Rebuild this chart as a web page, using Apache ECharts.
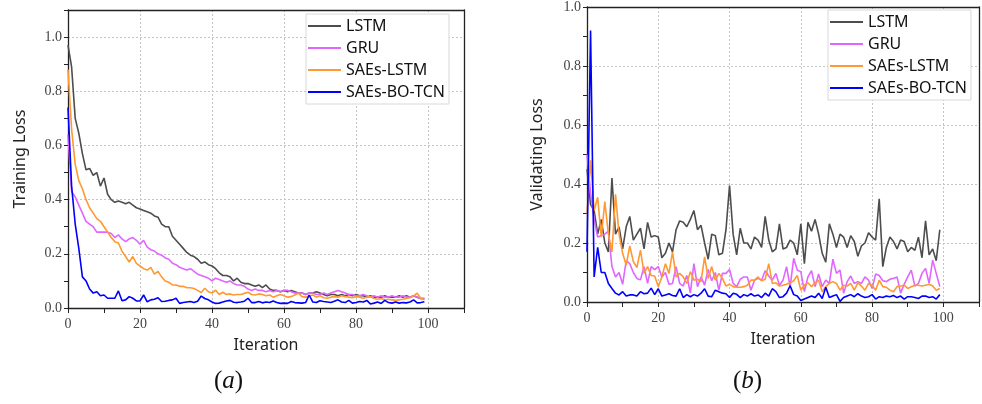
<!DOCTYPE html>
<html>
<head>
<meta charset="utf-8">
<script src="https://cdn.jsdelivr.net/npm/echarts@6/dist/echarts.min.js"></script>
<style>
  html, body { margin: 0; padding: 0; background: #fff; }
  #chart { width: 982px; height: 404px; }
</style>
</head>
<body>
<div id="chart"></div>
<script>
// legend names
var names = ['LSTM', 'GRU', 'SAEs-LSTM', 'SAEs-BO-TCN'];
var colors = ['#4d4d4d', '#e066ff', '#ff9933', '#0000ff'];

// (a) training loss
var trainLstm = [0.97,0.89,0.70,0.645,0.57,0.51,0.515,0.49,0.50,0.45,
  0.48,0.42,0.40,0.39,0.395,0.39,0.385,0.39,0.38,0.37,
  0.365,0.36,0.355,0.35,0.34,0.335,0.31,0.30,0.30,0.265,
  0.25,0.235,0.22,0.205,0.195,0.19,0.18,0.165,0.17,0.16,
  0.155,0.145,0.13,0.12,0.12,0.115,0.10,0.11,0.095,0.09,
  0.09,0.085,0.08,0.085,0.075,0.085,0.07,0.065,0.065,0.06,
  0.065,0.06,0.065,0.06,0.055,0.055,0.05,0.055,0.055,0.06,
  0.055,0.05,0.045,0.05,0.05,0.045,0.05,0.045,0.05,0.045,
  0.05,0.045,0.045,0.04,0.045,0.04,0.04,0.04,0.045,0.04,
  0.04,0.04,0.045,0.04,0.045,0.04,0.045,0.04,0.035,0.035];
var trainGru = [0.64,0.43,0.41,0.38,0.35,0.32,0.31,0.30,0.28,0.28,
  0.28,0.28,0.275,0.26,0.27,0.255,0.245,0.255,0.26,0.25,
  0.235,0.25,0.225,0.215,0.21,0.20,0.195,0.185,0.18,0.165,
  0.16,0.15,0.145,0.14,0.145,0.135,0.125,0.12,0.115,0.11,
  0.10,0.11,0.105,0.10,0.095,0.10,0.09,0.085,0.085,0.08,
  0.07,0.065,0.07,0.065,0.065,0.06,0.065,0.06,0.065,0.06,
  0.066,0.065,0.06,0.055,0.055,0.055,0.05,0.055,0.055,0.05,
  0.05,0.055,0.05,0.055,0.06,0.065,0.06,0.055,0.05,0.05,
  0.045,0.045,0.05,0.045,0.04,0.045,0.04,0.045,0.04,0.04,
  0.045,0.04,0.04,0.045,0.04,0.04,0.045,0.04,0.035,0.035];
var trainSaeLstm = [0.88,0.66,0.53,0.47,0.44,0.40,0.37,0.35,0.33,0.32,
  0.30,0.28,0.26,0.245,0.24,0.21,0.19,0.17,0.19,0.165,
  0.155,0.145,0.14,0.15,0.125,0.135,0.115,0.10,0.095,0.085,
  0.085,0.08,0.08,0.075,0.075,0.072,0.065,0.057,0.073,0.06,
  0.055,0.066,0.05,0.058,0.05,0.052,0.048,0.05,0.05,0.054,
  0.058,0.05,0.048,0.052,0.05,0.045,0.048,0.04,0.045,0.05,
  0.045,0.04,0.042,0.048,0.055,0.042,0.04,0.045,0.048,0.04,
  0.045,0.038,0.036,0.04,0.042,0.04,0.045,0.042,0.04,0.038,
  0.042,0.04,0.036,0.04,0.042,0.035,0.032,0.035,0.03,0.032,
  0.03,0.028,0.03,0.032,0.035,0.038,0.045,0.055,0.035,0.03];
var trainSaeTcn = [0.74,0.45,0.31,0.22,0.115,0.10,0.07,0.055,0.06,0.045,
  0.048,0.036,0.036,0.036,0.063,0.027,0.03,0.042,0.036,0.026,
  0.026,0.048,0.023,0.03,0.032,0.038,0.024,0.025,0.028,0.03,
  0.036,0.017,0.02,0.022,0.024,0.02,0.025,0.044,0.035,0.03,
  0.022,0.017,0.018,0.022,0.026,0.028,0.021,0.02,0.022,0.025,
  0.036,0.02,0.02,0.024,0.019,0.022,0.02,0.026,0.02,0.017,
  0.018,0.017,0.024,0.02,0.019,0.018,0.02,0.048,0.022,0.02,
  0.027,0.024,0.022,0.02,0.025,0.03,0.022,0.02,0.028,0.018,
  0.02,0.024,0.022,0.028,0.015,0.018,0.022,0.017,0.028,0.02,
  0.018,0.022,0.018,0.02,0.019,0.022,0.03,0.019,0.02,0.023];

// (b) validating loss
var valLstm = [0.45,0.33,0.31,0.23,0.28,0.20,0.17,0.42,0.23,0.255,
  0.18,0.255,0.29,0.21,0.23,0.25,0.18,0.27,0.22,0.225,
  0.22,0.15,0.165,0.20,0.17,0.245,0.275,0.27,0.255,0.28,
  0.31,0.245,0.26,0.20,0.145,0.23,0.225,0.16,0.165,0.245,
  0.395,0.23,0.16,0.25,0.20,0.20,0.18,0.22,0.21,0.185,
  0.29,0.21,0.17,0.18,0.265,0.18,0.185,0.21,0.20,0.16,
  0.265,0.13,0.27,0.24,0.28,0.23,0.165,0.135,0.265,0.23,
  0.185,0.23,0.22,0.185,0.225,0.205,0.155,0.19,0.20,0.235,
  0.22,0.21,0.35,0.12,0.185,0.22,0.205,0.18,0.21,0.205,
  0.17,0.185,0.175,0.22,0.15,0.275,0.16,0.18,0.14,0.245];
var valGru = [0.50,0.37,0.28,0.22,0.225,0.23,0.24,0.12,0.085,0.10,
  0.06,0.14,0.13,0.10,0.08,0.075,0.12,0.063,0.12,0.11,
  0.12,0.085,0.10,0.06,0.063,0.12,0.063,0.054,0.09,0.03,
  0.13,0.052,0.085,0.057,0.11,0.072,0.10,0.04,0.097,0.097,
  0.11,0.063,0.052,0.077,0.085,0.085,0.04,0.074,0.08,0.074,
  0.106,0.088,0.074,0.097,0.057,0.074,0.12,0.052,0.148,0.108,
  0.103,0.035,0.085,0.106,0.052,0.095,0.052,0.074,0.063,0.145,
  0.097,0.108,0.03,0.069,0.088,0.063,0.069,0.063,0.085,0.074,
  0.046,0.095,0.09,0.072,0.069,0.077,0.08,0.085,0.03,0.06,
  0.085,0.108,0.054,0.063,0.097,0.114,0.063,0.142,0.097,0.052];
var valSaeLstm = [0.30,0.48,0.31,0.355,0.22,0.34,0.23,0.17,0.365,0.23,
  0.165,0.125,0.19,0.137,0.117,0.176,0.097,0.12,0.09,0.088,
  0.052,0.085,0.13,0.097,0.17,0.085,0.097,0.085,0.063,0.103,
  0.074,0.077,0.069,0.153,0.08,0.12,0.074,0.097,0.08,0.054,
  0.06,0.052,0.05,0.05,0.052,0.057,0.074,0.074,0.085,0.072,
  0.077,0.13,0.063,0.065,0.054,0.057,0.06,0.065,0.072,0.09,
  0.04,0.057,0.065,0.052,0.065,0.074,0.035,0.052,0.063,0.069,
  0.063,0.04,0.057,0.054,0.063,0.04,0.065,0.054,0.04,0.063,
  0.057,0.04,0.074,0.052,0.05,0.04,0.035,0.052,0.054,0.057,
  0.046,0.052,0.057,0.057,0.054,0.057,0.06,0.054,0.04,0.046];
var valSaeTcn = [0.17,0.92,0.085,0.185,0.10,0.10,0.063,0.046,0.03,0.024,
  0.035,0.02,0.024,0.024,0.02,0.035,0.028,0.03,0.047,0.025,
  0.045,0.02,0.024,0.028,0.022,0.02,0.045,0.015,0.025,0.018,
  0.025,0.02,0.03,0.045,0.02,0.018,0.04,0.035,0.03,0.028,
  0.015,0.03,0.026,0.015,0.025,0.02,0.028,0.02,0.024,0.015,
  0.03,0.02,0.045,0.035,0.015,0.018,0.03,0.055,0.025,0.02,
  0.005,0.01,0.015,0.02,0.015,0.03,0.012,0.05,0.015,0.02,
  0.025,0.002,0.015,0.02,0.025,0.018,0.028,0.02,0.015,0.018,
  0.025,0.01,0.018,0.015,0.02,0.018,0.022,0.015,0.02,0.01,
  0.018,0.018,0.015,0.012,0.02,0.02,0.015,0.018,0.01,0.025];

var trainSets = [trainLstm, trainGru, trainSaeLstm, trainSaeTcn];
var valSets = [valLstm, valGru, valSaeLstm, valSaeTcn];

var labelFont = 'Liberation Serif';
var textFont = 'Noto Sans';

function pairs (arr) {
    return arr.map(function (v, i) { return [i, v]; });
}

// bottom / left axes carry ticks and labels, top / right ones only frame + grid lines
function xMain (grid) {
    return {
        type: 'value', gridIndex: grid, position: 'bottom',
        min: 0, max: 110, interval: 10,
        name: 'Iteration', nameLocation: 'middle', nameGap: 29,
        nameTextStyle: { fontFamily: textFont, fontSize: 16, color: '#222' },
        axisLine: { show: true, lineStyle: { color: '#222', width: 1.3 } },
        axisTick: { show: true, length: 5, lineStyle: { color: '#222' } },
        axisLabel: {
            margin: 9, fontFamily: labelFont, fontSize: 14, color: '#444',
            formatter: function (v) { return (v % 20 === 0 && v <= 100) ? String(v) : ''; }
        },
        splitLine: { show: false }
    };
}
function xFrame (grid) {
    return {
        type: 'value', gridIndex: grid, position: 'top',
        min: 0, max: 110, interval: 20,
        axisLine: { show: true, onZero: false, lineStyle: { color: '#222', width: 1.3 } },
        axisTick: { show: false }, axisLabel: { show: false },
        splitLine: { show: true, lineStyle: { color: '#c4c4c4', type: [2, 2], width: 1 } }
    };
}
function yMain (grid, max, title, gap) {
    return {
        type: 'value', gridIndex: grid, position: 'left',
        min: 0, max: max, interval: 0.1,
        name: title, nameLocation: 'middle', nameGap: gap,
        nameTextStyle: { fontFamily: textFont, fontSize: 16, color: '#222' },
        axisLine: { show: true, onZero: false, lineStyle: { color: '#222', width: 1.3 } },
        axisTick: { show: true, length: 4, lineStyle: { color: '#222' } },
        axisLabel: {
            margin: 6, fontFamily: labelFont, fontSize: 14, color: '#444',
            formatter: function (v) {
                var k = Math.round(v * 10);
                return (k % 2 === 0 && k <= 10) ? (k / 10).toFixed(1) : '';
            }
        },
        splitLine: { show: false }
    };
}
function yFrame (grid, max) {
    return {
        type: 'value', gridIndex: grid, position: 'right',
        min: 0, max: max, interval: 0.2,
        axisLine: { show: true, onZero: false, lineStyle: { color: '#222', width: 1.3 } },
        axisTick: { show: false }, axisLabel: { show: false },
        splitLine: { show: true, lineStyle: { color: '#c4c4c4', type: [2, 2], width: 1 } }
    };
}
function legendAt (left, top) {
    return {
        orient: 'vertical', left: left, top: top,
        data: names, icon: 'rect', itemWidth: 33, itemHeight: 2, itemGap: 4,
        padding: [3, 4, 3, 2],
        backgroundColor: '#fff', borderColor: '#d8d8d8', borderWidth: 1,
        textStyle: { fontFamily: textFont, fontSize: 16, color: '#111', lineHeight: 18 }
    };
}

var series = [];
names.forEach(function (n, k) {
    series.push({
        name: n, type: 'line', xAxisIndex: 0, yAxisIndex: 0,
        data: pairs(trainSets[k]), showSymbol: false, symbol: 'none',
        lineStyle: { color: colors[k], width: 1.6 }, itemStyle: { color: colors[k] },
        z: 2 + k
    });
});
names.forEach(function (n, k) {
    series.push({
        name: n, type: 'line', xAxisIndex: 2, yAxisIndex: 2,
        data: pairs(valSets[k]), showSymbol: false, symbol: 'none',
        lineStyle: { color: colors[k], width: 1.6 }, itemStyle: { color: colors[k] },
        z: 2 + k
    });
});

var chart = echarts.init(document.getElementById('chart'));
chart.setOption({
    animation: false,
    backgroundColor: '#fff',
    grid: [
        { left: 68, top: 10, width: 396, height: 298 },
        { left: 587, top: 6, width: 394, height: 296 }
    ],
    xAxis: [xMain(0), xFrame(0), xMain(1), xFrame(1)],
    yAxis: [yMain(0, 1.1, 'Training Loss', 40), yFrame(0, 1.1),
            yMain(1, 1.0, 'Validating Loss', 42), yFrame(1, 1.0)],
    legend: [legendAt(306, 14), legendAt(828, 10)],
    graphic: [
        { type: 'text', left: 214, top: 369,
          style: { text: '{p|(}{i|a}{p|)}', rich: {
              p: { fontFamily: labelFont, fontSize: 25, fill: '#111' },
              i: { fontFamily: labelFont, fontSize: 25, fontStyle: 'italic', fill: '#111' } } } },
        { type: 'text', left: 733, top: 369,
          style: { text: '{p|(}{i|b}{p|)}', rich: {
              p: { fontFamily: labelFont, fontSize: 25, fill: '#111' },
              i: { fontFamily: labelFont, fontSize: 25, fontStyle: 'italic', fill: '#111' } } } }
    ],
    series: series
});
</script>
</body>
</html>
